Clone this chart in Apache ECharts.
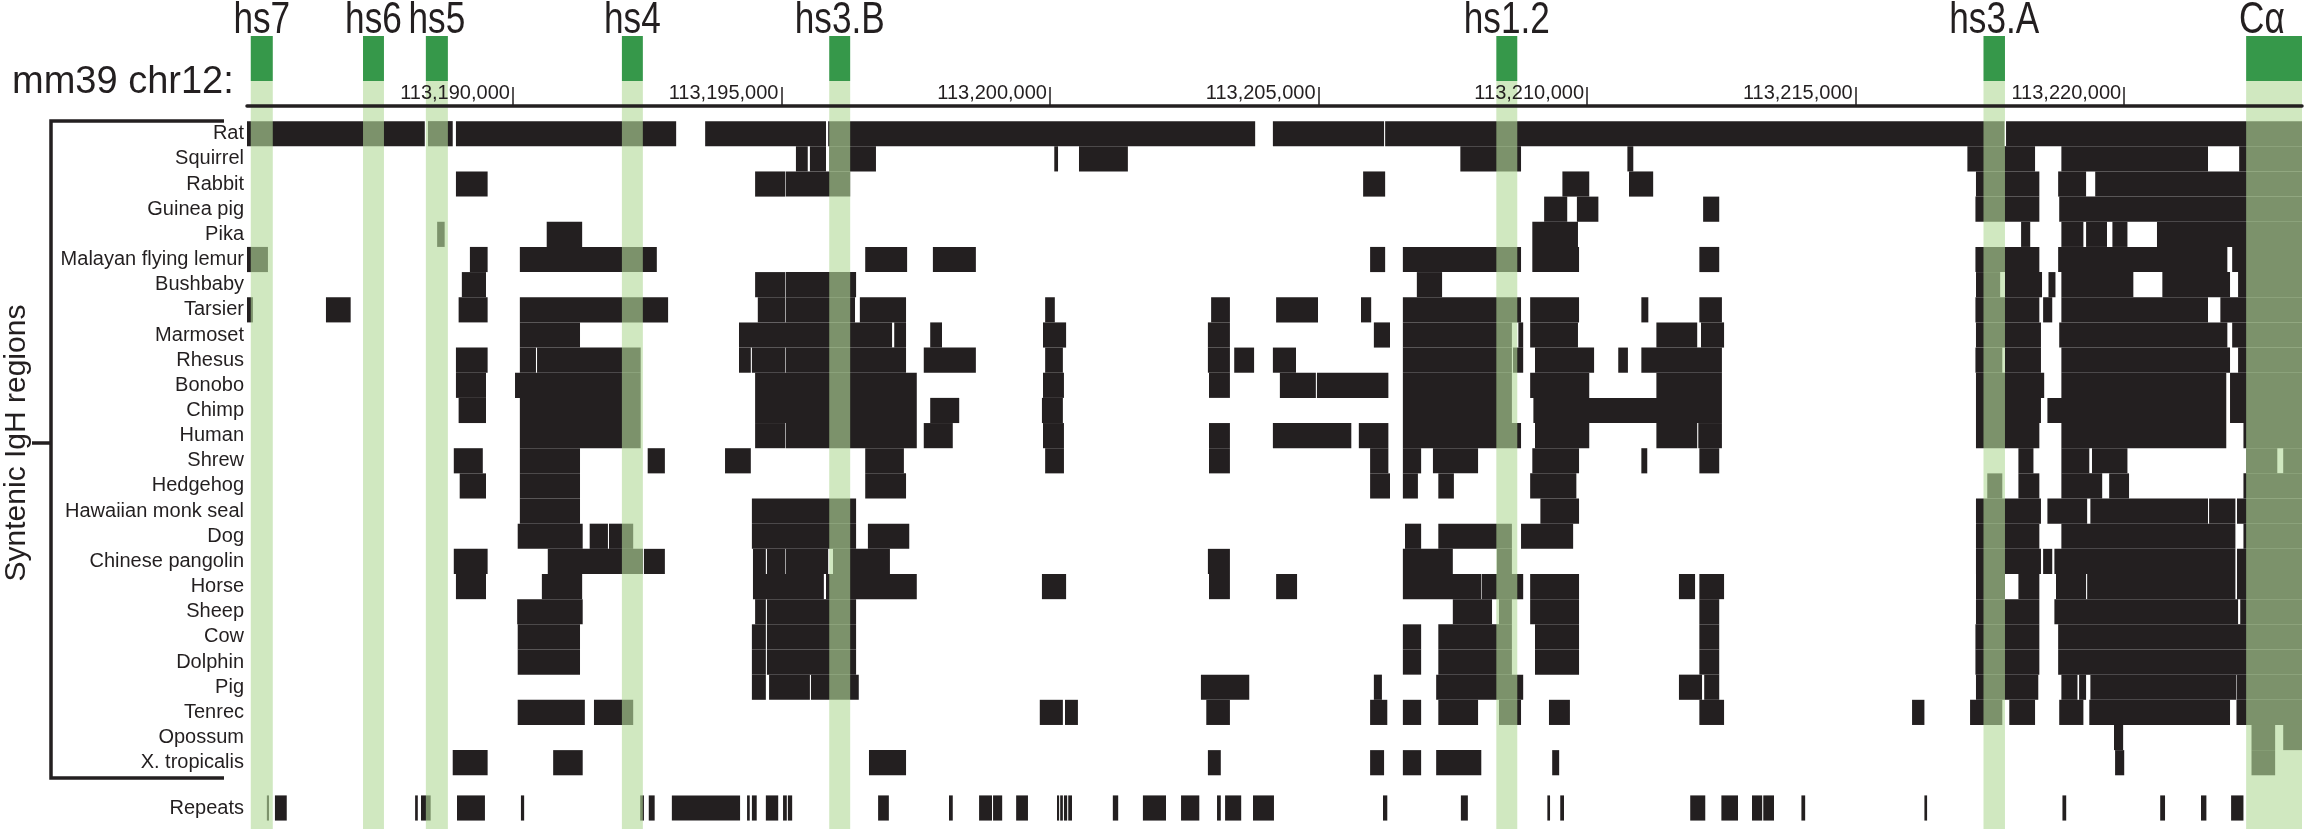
<!DOCTYPE html>
<html><head><meta charset="utf-8">
<script src="https://cdn.jsdelivr.net/npm/echarts@6/dist/echarts.min.js"></script>
<style>html,body{margin:0;padding:0;background:#fff}#c{width:2304px;height:829px}</style>
</head><body><div id="c"></div>
<script>
// Positions are in kb on mm39 chr12, written as (position - 113,000,000 bp) / 1000
const SPECIES = ['Rat','Squirrel','Rabbit','Guinea pig','Pika','Malayan flying lemur','Bushbaby','Tarsier','Marmoset','Rhesus','Bonobo','Chimp','Human','Shrew','Hedgehog','Hawaiian monk seal','Dog','Chinese pangolin','Horse','Sheep','Cow','Dolphin','Pig','Tenrec','Opossum','X. tropicalis'];
const TICKS = [190,195,200,205,210,215,220];
const BAND_NAMES = ['hs7','hs6','hs5','hs4','hs3.B','hs1.2','hs3.A','C\u03b1'];
const BAND_START = [185.12,187.21,188.38,192.03,195.89,208.31,217.38,222.27];
const BAND_END   = [185.53,187.60,188.79,192.42,196.28,208.70,217.78,223.31];

const rat = [[185.05,188.36],[188.42,188.88],[188.94,193.04],[193.58,195.83],[195.87,203.82],[204.15,206.22],[206.24,217.77],[217.80,223.31]];
const squirrel = [[195.27,195.49],[195.53,195.83],[195.89,196.76],[200.08,200.15],[200.54,201.45],[207.64,208.77],[210.75,210.86],[217.08,218.34],[218.83,221.56],[222.14,223.31]];
const rabbit = [[188.94,189.53],[194.51,195.07],[195.08,196.28],[205.83,206.24],[209.54,210.04],[210.78,211.23],[217.24,218.42],[218.77,219.29],[219.46,223.31]];
const guineaPig = [[209.20,209.63],[209.81,210.21],[212.16,212.46],[217.23,218.42],[218.79,223.31]];
const pika = [[188.59,188.73],[190.63,191.29],[208.98,209.83],[218.08,218.25],[218.83,219.24],[219.29,219.68],[219.78,220.06],[220.61,223.31]];
const flyingLemur = [[185.05,185.44],[189.20,189.53],[190.13,192.68],[196.56,197.34],[197.82,198.62],[205.96,206.24],[206.57,208.77],[208.98,209.85],[212.09,212.46],[217.23,218.42],[218.77,221.92],[222.01,223.31]];
const bushbaby = [[189.05,189.50],[194.51,195.07],[195.08,196.39],[206.83,207.30],[217.24,217.69],[217.78,218.47],[218.59,218.72],[218.83,220.17],[220.71,221.97],[222.12,223.31]];
const tarsier = [[185.05,185.16],[186.52,186.98],[188.99,189.53],[190.13,192.89],[194.56,195.07],[195.08,196.37],[196.46,197.32],[199.91,200.09],[203.00,203.35],[204.21,204.99],[205.79,205.98],[206.57,208.77],[208.94,209.85],[211.01,211.14],[212.09,212.51],[217.23,218.42],[218.49,218.66],[218.83,221.56],[221.79,223.31]];
const marmoset = [[190.13,191.25],[194.21,197.06],[197.10,197.32],[197.77,197.99],[199.87,200.30],[202.94,203.35],[206.03,206.33],[206.57,208.60],[208.72,208.81],[208.94,209.83],[211.29,212.05],[212.12,212.55],[217.24,218.45],[218.79,221.92],[222.01,223.31]];
const rhesus = [[188.94,189.53],[190.13,190.43],[190.45,192.38],[194.21,194.43],[194.45,195.07],[195.08,197.32],[197.65,198.62],[199.91,200.24],[202.94,203.35],[203.43,203.80],[204.15,204.58],[206.57,208.60],[208.62,208.81],[209.03,210.13],[210.58,210.76],[211.01,212.51],[217.23,217.73],[217.78,218.45],[218.83,221.97],[222.12,223.31]];
const bonobo = [[188.94,189.50],[190.04,192.38],[194.51,197.52],[199.87,200.26],[202.96,203.35],[204.28,204.95],[204.97,206.30],[206.57,208.60],[208.94,210.04],[211.29,212.51],[217.24,218.51],[218.83,221.90],[221.97,223.31]];
const chimp = [[188.99,189.50],[190.13,192.38],[194.51,197.52],[197.77,198.31],[199.85,200.24],[206.57,208.60],[209.00,212.51],[217.24,218.45],[218.57,221.90],[221.97,223.31]];
const human = [[190.13,192.38],[194.51,195.07],[195.08,197.52],[197.65,198.19],[199.87,200.26],[202.96,203.35],[204.15,205.61],[205.75,206.30],[206.57,208.77],[209.03,210.04],[211.29,212.05],[212.07,212.51],[217.24,218.42],[218.83,221.90],[222.22,223.31]];
const shrew = [[188.90,189.44],[190.13,191.25],[192.51,192.83],[193.95,194.43],[196.56,197.28],[199.91,200.26],[202.96,203.35],[205.96,206.30],[206.57,206.91],[207.13,207.97],[208.98,209.85],[211.01,211.12],[212.09,212.46],[218.03,218.31],[218.83,219.35],[219.40,220.06],[222.27,222.85],[222.96,223.31]];
const hedgehog = [[189.01,189.50],[190.13,191.25],[196.56,197.32],[205.96,206.33],[206.57,206.85],[207.23,207.52],[208.94,209.80],[217.45,217.73],[218.03,218.42],[218.83,219.59],[219.72,220.09],[222.22,223.31]];
const monkSeal = [[190.13,191.25],[194.45,196.39],[209.13,209.85],[217.24,218.45],[218.57,219.31],[219.37,221.56],[221.58,222.07],[222.10,223.31]];
const dog = [[190.09,191.30],[191.43,191.77],[191.79,192.24],[194.45,196.39],[196.61,197.38],[206.61,206.91],[207.23,208.60],[208.77,209.74],[217.24,218.42],[218.83,222.07],[222.22,223.31]];
const pangolin = [[188.90,189.53],[190.65,192.42],[192.44,192.83],[194.47,194.71],[194.73,195.07],[195.08,195.87],[195.96,197.02],[202.94,203.35],[206.57,207.50],[208.32,208.60],[217.24,218.45],[218.49,218.66],[218.70,222.07],[222.10,223.31]];
const horse = [[188.94,189.50],[190.54,191.29],[194.47,195.79],[195.83,197.52],[199.85,200.30],[202.96,203.35],[204.21,204.60],[206.57,208.03],[208.04,208.81],[208.94,209.85],[211.71,212.01],[212.09,212.55],[217.24,217.78],[218.03,218.42],[218.73,219.29],[219.31,222.07],[222.10,223.31]];
const sheep = [[190.08,191.30],[194.51,194.71],[194.73,196.39],[207.50,208.23],[208.36,208.60],[208.94,209.85],[212.09,212.46],[217.24,218.42],[218.70,222.12],[222.16,223.31]];
const cow = [[190.09,191.25],[194.45,194.71],[194.73,196.39],[206.57,206.91],[207.23,208.60],[209.03,209.85],[212.09,212.46],[217.23,218.42],[218.77,223.31]];
const dolphin = [[190.09,191.25],[194.45,194.71],[194.73,196.39],[206.57,206.91],[207.23,208.60],[209.03,209.85],[212.09,212.46],[217.23,218.42],[218.77,223.31]];
const pig = [[194.45,194.71],[194.77,195.53],[195.55,196.44],[202.81,203.71],[206.03,206.18],[207.19,208.81],[211.71,212.14],[212.18,212.46],[217.24,218.40],[218.83,219.13],[219.16,219.29],[219.37,222.09],[222.10,223.31]];
const tenrec = [[190.09,191.34],[191.51,192.24],[199.81,200.24],[200.28,200.52],[202.91,203.35],[205.96,206.28],[206.57,206.91],[207.23,207.97],[208.36,208.77],[209.29,209.68],[212.09,212.55],[216.05,216.28],[217.13,217.73],[217.86,218.34],[218.79,219.24],[219.35,221.97],[222.09,223.31]];
const opossum = [[219.81,219.98],[222.37,222.81],[222.96,223.31]];
const xTropicalis = [[188.88,189.53],[190.75,191.30],[196.63,197.32],[202.94,203.18],[205.96,206.22],[206.57,206.91],[207.19,208.03],[209.35,209.48],[219.83,220.00],[222.37,222.81]];
const repeats = [[185.42,185.46],[185.57,185.79],[188.18,188.23],[188.29,188.47],[188.96,189.48],[190.15,190.21],[192.37,192.44],[192.53,192.64],[192.96,194.23],[194.36,194.41],[194.45,194.54],[194.71,194.94],[195.03,195.10],[195.12,195.20],[196.80,197.00],[198.12,198.19],[198.68,198.92],[198.94,199.11],[199.37,199.59],[200.13,200.17],[200.19,200.24],[200.26,200.32],[200.34,200.41],[201.17,201.27],[201.73,202.16],[202.44,202.78],[203.11,203.18],[203.26,203.56],[203.78,204.17],[206.20,206.28],[207.65,207.78],[209.26,209.31],[209.50,209.57],[211.92,212.20],[212.50,212.81],[213.07,213.26],[213.28,213.48],[213.99,214.06],[216.28,216.33],[218.85,218.92],[220.67,220.76],[221.43,221.53],[221.99,222.22]];

const SPECIES_BLOCKS = [rat,squirrel,rabbit,guineaPig,pika,flyingLemur,bushbaby,tarsier,marmoset,rhesus,bonobo,chimp,human,shrew,hedgehog,monkSeal,dog,pangolin,horse,sheep,cow,dolphin,pig,tenrec,opossum,xTropicalis];

// ---- layout / styling ----
const INK = '#231f20';
const AX_MIN = 185.05, AX_MAX = 223.31;
const ROW_MIN = -2.095, ROW_MAX = 27.635;
const REPEATS_ROW = 26.8;
const REG = '"Liberation Sans", Arial, sans-serif';

const blockData = [];
SPECIES_BLOCKS.forEach((list, row) => list.forEach(b => blockData.push([row, b[0], b[1]])));
repeats.forEach(b => blockData.push([REPEATS_ROW, b[0], b[1]]));
const bandData = BAND_START.map((s, i) => [s, BAND_END[i], 0]);
const labelRows = SPECIES.map((_, i) => i).concat([REPEATS_ROW]);

function renderBlock(params, api) {
  const row = api.value(0);
  const p0 = api.coord([api.value(1), row]);
  const p1 = api.coord([api.value(2), row]);
  const h = api.size([0, 1])[1];
  return {type: 'rect', shape: {x: p0[0], y: p0[1] - h / 2, width: Math.max(p1[0] - p0[0], 1), height: h},
          style: {fill: INK}};
}
function renderBand(params, api) {
  const x0 = api.coord([api.value(0), 0])[0];
  const x1 = api.coord([api.value(1), 0])[0];
  const cs = params.coordSys;
  return {type: 'rect', shape: {x: x0, y: cs.y, width: x1 - x0, height: cs.height},
          style: {fill: 'rgba(179,218,154,0.62)'}};
}
function renderHeader(params, api) {
  const x0 = api.coord([api.value(0), 0])[0];
  const x1 = api.coord([api.value(1), 0])[0];
  const cs = params.coordSys;
  const cx = Math.min((x0 + x1) / 2, cs.x + cs.width - 40);
  return {type: 'group', children: [
    {type: 'rect', shape: {x: x0, y: cs.y, width: x1 - x0, height: cs.height}, style: {fill: '#36984a'}},
    {type: 'text', x: cx, y: cs.y + 7, scaleX: 0.8, style: {text: BAND_NAMES[params.dataIndex], fill: INK,
      font: '44px ' + REG, align: 'center', verticalAlign: 'bottom'}}
  ]};
}

const chart = echarts.init(document.getElementById('c'));
chart.setOption({
  animation: false,
  backgroundColor: '#ffffff',
  grid: [
    {left: 247, right: 2, top: 81, bottom: 0},
    {left: 247, right: 2, top: 36, height: 45},
    {left: 247, right: 2, top: 60, height: 46}
  ],
  xAxis: [
    {gridIndex: 0, type: 'value', min: AX_MIN, max: AX_MAX, show: false},
    {gridIndex: 1, type: 'value', min: AX_MIN, max: AX_MAX, show: false},
    {gridIndex: 2, type: 'value', min: AX_MIN, max: AX_MAX, position: 'bottom', z: 10,
      axisLine: {show: true, onZero: false, lineStyle: {color: INK, width: 3.5}},
      axisTick: {show: true, inside: true, length: 19, customValues: TICKS, lineStyle: {color: INK, width: 1.5}},
      axisLabel: {show: true, inside: true, customValues: TICKS, formatter: v => '113,' + v + ',000',
        align: 'right', verticalAlign: 'bottom', margin: 3, padding: [0, 3, 0, 0],
        color: INK, fontSize: 20, fontFamily: REG},
      splitLine: {show: false}}
  ],
  yAxis: [
    {gridIndex: 0, type: 'value', inverse: true, min: ROW_MIN, max: ROW_MAX,
      axisLine: {show: false}, axisTick: {show: false}, splitLine: {show: false},
      axisLabel: {show: true, customValues: labelRows, margin: 3, color: INK, fontSize: 20, fontFamily: REG,
        formatter: v => (v === REPEATS_ROW ? 'Repeats' : SPECIES[Math.round(v)])}},
    {gridIndex: 1, type: 'value', min: 0, max: 1, show: false},
    {gridIndex: 2, type: 'value', min: 0, max: 1, show: false}
  ],
  graphic: [
    {type: 'text', x: 12, y: 83, style: {text: 'mm39 chr12:', font: '38px ' + REG, fill: INK, verticalAlign: 'middle'}},
    {type: 'polyline', shape: {points: [[224, 121], [51, 121], [51, 778], [224, 778]]},
      style: {stroke: INK, lineWidth: 3.5, fill: null}},
    {type: 'line', shape: {x1: 32, y1: 443, x2: 51, y2: 443}, style: {stroke: INK, lineWidth: 3.5}},
    {type: 'text', x: 17, y: 443, rotation: Math.PI / 2,
      style: {text: 'Syntenic IgH regions', font: '30px ' + REG, fill: INK, align: 'center', verticalAlign: 'middle'}}
  ],
  series: [
    {type: 'custom', xAxisIndex: 0, yAxisIndex: 0, renderItem: renderBlock, data: blockData,
      encode: {x: [1, 2], y: 0}, z: 2, silent: true},
    {type: 'custom', xAxisIndex: 0, yAxisIndex: 0, renderItem: renderBand, data: bandData,
      encode: {x: [0, 1], y: 2}, z: 3, silent: true},
    {type: 'custom', xAxisIndex: 1, yAxisIndex: 1, renderItem: renderHeader, data: bandData,
      encode: {x: [0, 1], y: 2}, z: 3, silent: true}
  ]
});
</script></body></html>
